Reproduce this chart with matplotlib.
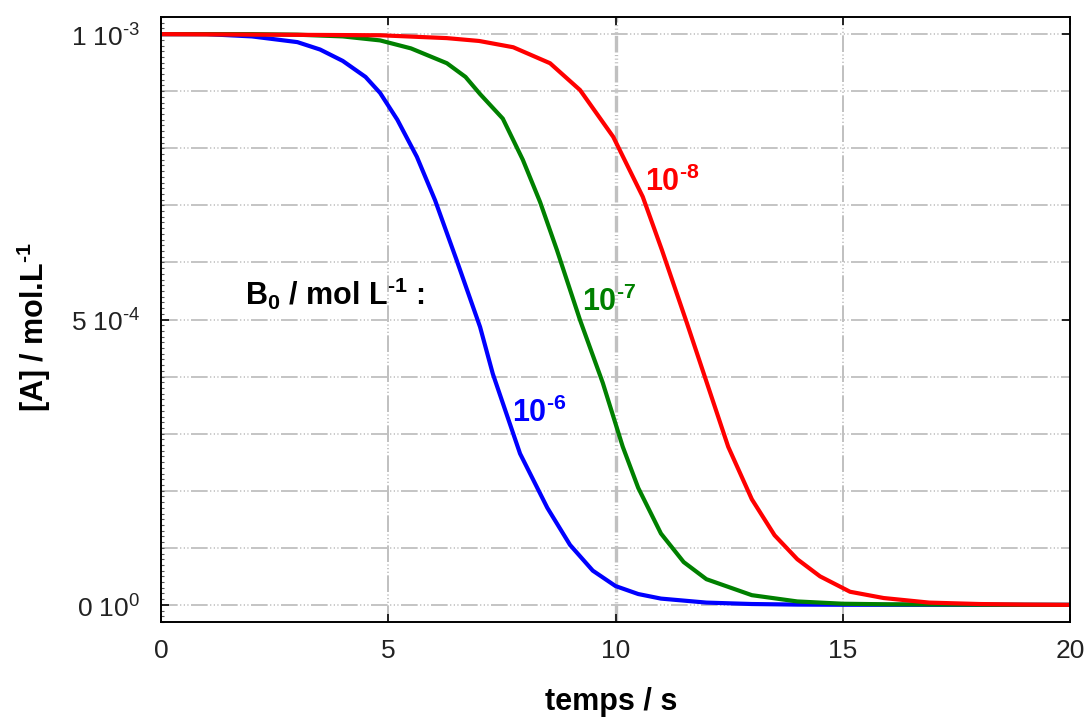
import numpy as np
import matplotlib
matplotlib.use("Agg")
import matplotlib.pyplot as plt
from matplotlib.ticker import FixedLocator, MultipleLocator

plt.rcParams['font.family'] = ['Liberation Sans', 'DejaVu Sans']
plt.rcParams['mathtext.fontset'] = 'custom'
plt.rcParams['mathtext.rm'] = 'Liberation Sans'
plt.rcParams['mathtext.bf'] = 'Liberation Sans:bold'
plt.rcParams['lines.scale_dashes'] = False

HY = "\u2010"  # hyphen, as in the reference superscripts

# ---- data (concentrations in 1e-3 mol/L) ----
t_blue = [0, 1, 2, 3, 3.5, 4, 4.5, 4.82, 5.2, 5.63, 6.03, 6.5, 7.02, 7.3, 7.9,
          8.5, 9, 9.5, 10, 10.5, 11, 12, 13, 14, 15, 20]
a_blue = [1.0, 1.0, 0.996, 0.986, 0.973, 0.953, 0.925, 0.897, 0.85, 0.785,
          0.709, 0.605, 0.487, 0.405, 0.265, 0.17, 0.105, 0.06, 0.033, 0.019,
          0.011, 0.004, 0.0015, 0.0005, 0.0002, 0.0]

t_green = [0, 2, 3, 4, 4.82, 5.5, 6.29, 6.7, 7.02, 7.52, 7.96, 8.34, 8.71,
           9.22, 9.72, 10.16, 10.5, 11, 11.5, 12, 13, 14, 15, 16, 18, 20]
a_green = [1.0, 1.0, 0.999, 0.996, 0.989, 0.975, 0.949, 0.925, 0.895, 0.852,
           0.78, 0.706, 0.622, 0.499, 0.389, 0.277, 0.205, 0.125, 0.075,
           0.045, 0.017, 0.006, 0.002, 0.001, 0.0003, 0.0]

t_red = [0, 4.82, 6.29, 7.0, 7.75, 8.56, 9.22, 9.95, 10.6, 11.02, 11.57, 12.01,
         12.48, 13, 13.5, 14, 14.5, 15.16, 15.9, 16.9, 18, 19, 20]
a_red = [1.0, 0.998, 0.993, 0.988, 0.977, 0.949, 0.902, 0.82, 0.715, 0.622,
         0.494, 0.389, 0.277, 0.185, 0.122, 0.08, 0.05, 0.023, 0.012, 0.004,
         0.0015, 0.0005, 0.0]

series_labels = ["10$^{\\mathdefault{" + HY + "6}}$",
                 "10$^{\\mathdefault{" + HY + "7}}$",
                 "10$^{\\mathdefault{" + HY + "8}}$"]
label_pos = [(7.72, 0.320), (9.26, 0.515), (10.64, 0.725)]
colors = ['#0000ff', '#008000', '#ff0000']

x_ticks = [0, 5, 10, 15, 20]
y_ticks = [0.0, 5e-4, 1e-3]
y_ticklabels = ["0 10$^{\\mathdefault{0}}$",
                "5 10$^{\\mathdefault{" + HY + "4}}$",
                "1 10$^{\\mathdefault{" + HY + "3}}$"]
y_grid = [1e-4, 2e-4, 3e-4, 4e-4, 6e-4, 7e-4, 8e-4, 9e-4]

fig = plt.figure(figsize=(10.84, 7.24), dpi=100)
ax = fig.add_axes([161/1084, 102/724, 909/1084, 605/724])

ax.set_xlim(0, 20)
ax.set_ylim(-0.03e-3, 1.03e-3)

grid_ls = (0, (12, 1.8, 0.8, 1.8, 0.8, 1.8, 0.8, 1.8))
for yv in y_ticks + y_grid:
    ax.axhline(yv, color='#c4c4c4', lw=1.4, ls=grid_ls, zorder=1)
for xv in x_ticks[1:-1]:
    ax.axvline(xv, color='#c0c0c0', lw=2.4 if xv == 10 else 1.4, ls=grid_ls, zorder=1)

series = [(t_blue, a_blue), (t_green, a_green), (t_red, a_red)]
for (t, a), c in zip(series, colors):
    ax.plot(t, np.array(a) * 1e-3, color=c, lw=3.0, zorder=3,
            solid_joinstyle='round')

for lab, (tx, ay), c in zip(series_labels, label_pos, colors):
    ax.text(tx, ay * 1e-3, lab, color=c, fontsize=22, fontweight='bold',
            ha='left', va='baseline', zorder=4)

ax.text(1.85, 0.525e-3,
        "B$_{\\mathdefault{0}}$ / mol L$^{\\mathdefault{" + HY + "1}}$ :",
        color='black', fontsize=22, fontweight='bold', ha='left',
        va='baseline', zorder=4)

ax.xaxis.set_major_locator(FixedLocator(x_ticks))
ax.yaxis.set_major_locator(FixedLocator(y_ticks))
ax.set_yticklabels(y_ticklabels)
ax.yaxis.set_minor_locator(MultipleLocator(1e-5))
ax.tick_params(axis='both', which='major', direction='in', length=6, width=1.4,
               labelsize=19, colors='#222222', top=True, right=True)
ax.tick_params(axis='x', which='major', pad=12)
ax.tick_params(axis='y', which='major', pad=15)
ax.tick_params(axis='y', which='minor', direction='in', length=2.5, width=0.8,
               left=True, right=False, colors='#555555')
for sp in ax.spines.values():
    sp.set_linewidth(1.4)
    sp.set_color('black')
    sp.set_zorder(5)

ax.set_xlabel("temps / s", fontsize=22, fontweight='bold')
ax.xaxis.set_label_coords(0.4955, -0.108)
ax.set_ylabel("[A] / mol.L$^{\\mathdefault{" + HY + "1}}$", fontsize=22,
              fontweight='bold')
ax.yaxis.set_label_coords(-0.119, 0.487)

fig.savefig("out.png", dpi=100)
